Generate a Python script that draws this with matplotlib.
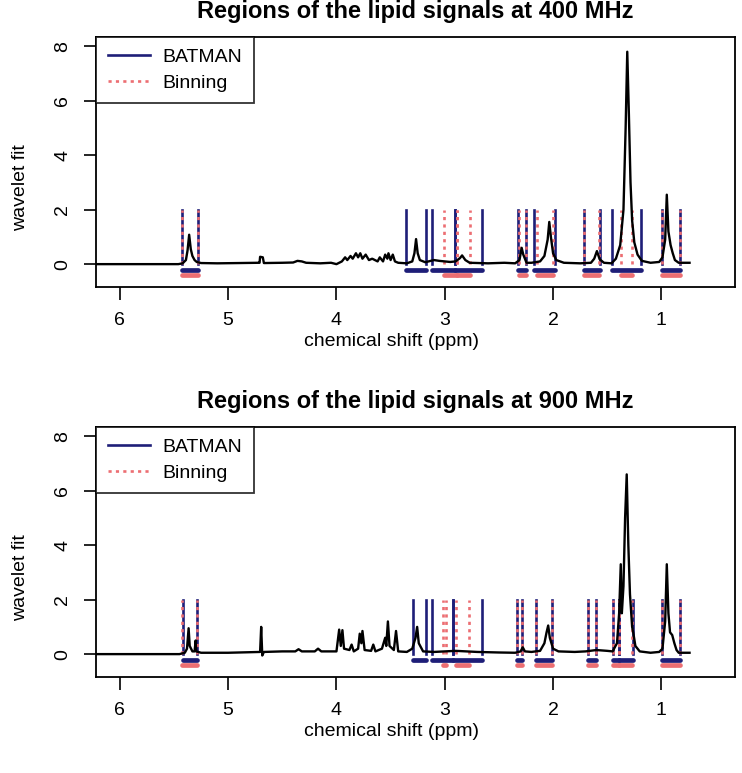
import matplotlib
matplotlib.use("Agg")
import matplotlib.pyplot as plt
from matplotlib.lines import Line2D

plt.rcParams['font.family'] = ['Liberation Sans', 'DejaVu Sans']

BLUE = '#1e1e78'
RED = '#ec6e72'

# spectrum traces (ppm, wavelet fit)
ppm_400 = [6.30, 5.46, 5.42, 5.39, 5.375, 5.36, 5.345, 5.33, 5.31, 5.29, 5.25, 5.10, 4.90,
           4.72, 4.71, 4.705, 4.68, 4.67, 4.50, 4.40, 4.36, 4.32, 4.28, 4.15, 4.05, 4.00,
           3.95, 3.92, 3.90, 3.87, 3.85, 3.82, 3.80, 3.78, 3.76, 3.73, 3.70, 3.67, 3.62,
           3.60, 3.57, 3.55, 3.53, 3.52, 3.50, 3.48, 3.46, 3.43, 3.35, 3.30, 3.28, 3.265,
           3.25, 3.23, 3.18, 3.10, 3.05, 2.95, 2.90, 2.86, 2.84, 2.81, 2.77, 2.60, 2.45,
           2.35, 2.31, 2.29, 2.275, 2.26, 2.245, 2.20, 2.12, 2.08, 2.05, 2.035, 2.02, 2.00,
           1.97, 1.90, 1.75, 1.65, 1.62, 1.595, 1.57, 1.53, 1.46, 1.42, 1.38, 1.35, 1.33,
           1.315, 1.30, 1.285, 1.27, 1.25, 1.22, 1.18, 1.10, 1.02, 0.99, 0.965, 0.95,
           0.935, 0.915, 0.895, 0.875, 0.84, 0.74]
fit_400 = [0.0, 0.0, 0.03, 0.15, 0.5, 1.08, 0.55, 0.3, 0.15, 0.08, 0.04, 0.03, 0.04,
           0.05, 0.05, 0.27, 0.25, 0.04, 0.05, 0.06, 0.12, 0.10, 0.05, 0.03, 0.05, 0.0,
           0.10, 0.25, 0.15, 0.30, 0.20, 0.40, 0.25, 0.40, 0.20, 0.35, 0.15, 0.20, 0.10,
           0.25, 0.10, 0.35, 0.20, 0.40, 0.15, 0.35, 0.10, 0.05, 0.03, 0.10, 0.40, 0.92,
           0.40, 0.15, 0.07, 0.15, 0.12, 0.08, 0.10, 0.22, 0.32, 0.15, 0.05, 0.03, 0.05,
           0.03, 0.15, 0.60, 0.35, 0.20, 0.05, 0.05, 0.10, 0.30, 0.90, 1.55, 1.00, 0.40,
           0.15, 0.05, 0.03, 0.05, 0.20, 0.48, 0.18, 0.05, 0.03, 0.20, 0.70, 2.00, 5.00,
           7.80, 5.50, 3.00, 1.60, 0.80, 0.35, 0.12, 0.05, 0.08, 0.25, 0.90, 2.55,
           1.20, 0.70, 0.40, 0.15, 0.05, 0.05]

ppm_900 = [6.30, 5.45, 5.40, 5.38, 5.365, 5.355, 5.33, 5.31, 5.30, 5.295, 5.25, 5.00,
           4.80, 4.705, 4.695, 4.685, 4.67, 4.50, 4.38, 4.35, 4.32, 4.20, 4.17, 4.14,
           4.00, 3.975, 3.96, 3.945, 3.93, 3.88, 3.86, 3.84, 3.80, 3.785, 3.77, 3.76,
           3.74, 3.68, 3.66, 3.64, 3.58, 3.55, 3.54, 3.525, 3.51, 3.47, 3.45, 3.43, 3.35,
           3.30, 3.27, 3.255, 3.24, 3.20, 3.10, 3.00, 2.90, 2.80, 2.70, 2.50, 2.35, 2.30,
           2.28, 2.26, 2.20, 2.12, 2.08, 2.06, 2.045, 2.03, 2.00, 1.95, 1.80, 1.70, 1.60,
           1.50, 1.45, 1.41, 1.39, 1.375, 1.365, 1.35, 1.335, 1.32, 1.305, 1.29, 1.27,
           1.26, 1.24, 1.20, 1.10, 1.02, 0.99, 0.965, 0.95, 0.935, 0.92, 0.90, 0.88,
           0.86, 0.84, 0.74]
fit_900 = [0.0, 0.0, 0.05, 0.2, 0.95, 0.3, 0.1, 0.1, 0.5, 0.1, 0.05, 0.05,
           0.07, 0.08, 1.0, -0.05, 0.08, 0.10, 0.10, 0.18, 0.10, 0.10, 0.20, 0.10,
           0.10, 0.90, 0.30, 0.88, 0.20, 0.15, 0.35, 0.10, 0.20, 0.75, 0.40, 0.85,
           0.15, 0.12, 0.35, 0.10, 0.20, 0.60, 0.30, 1.20, 0.30, 0.15, 0.85, 0.10, 0.08,
           0.20, 0.60, 1.00, 0.40, 0.10, 0.08, 0.10, 0.12, 0.10, 0.08, 0.06, 0.05, 0.10,
           0.25, 0.10, 0.08, 0.12, 0.40, 0.80, 1.05, 0.60, 0.20, 0.10, 0.08, 0.10, 0.15,
           0.12, 0.10, 0.40, 1.50, 3.30, 1.50, 2.50, 5.00, 6.60, 4.00, 2.20, 1.00,
           0.80, 0.30, 0.10, 0.05, 0.08, 0.20, 1.20, 3.30, 1.50, 0.80, 0.70, 0.40,
           0.15, 0.05, 0.05]

# region boundaries (ppm), each pair is one region
batman_400 = [(5.43, 5.28), (3.36, 3.17), (3.12, 2.91), (2.91, 2.66), (2.32, 2.25),
              (2.175, 1.985), (1.715, 1.57), (1.46, 1.185), (0.995, 0.83)]
binning_400 = [(5.43, 5.28), (3.01, 2.885), (2.885, 2.77), (2.315, 2.25), (2.15, 2.0),
               (1.715, 1.58), (1.37, 1.275), (0.995, 0.83)]
batman_900 = [(5.42, 5.29), (3.29, 3.17), (3.12, 2.92), (2.92, 2.66), (2.33, 2.285),
              (2.155, 2.01), (1.68, 1.605), (1.445, 1.39), (1.39, 1.265), (0.995, 0.83)]
binning_900 = [(5.43, 5.285), (3.02, 2.99), (2.9, 2.775), (2.33, 2.285), (2.155, 2.01),
               (1.68, 1.605), (1.445, 1.39), (1.39, 1.27), (0.995, 0.83)]

panels = [("Regions of the lipid signals at 400 MHz", ppm_400, fit_400, batman_400, binning_400),
          ("Regions of the lipid signals at 900 MHz", ppm_900, fit_900, batman_900, binning_900)]

fig = plt.figure(figsize=(7.42, 7.73), dpi=100)
boxes = [[0.1294, 0.6287, 0.8612, 0.3234], [0.1294, 0.1242, 0.8612, 0.3234]]

for box, (title, ppm, fit, batman, binning) in zip(boxes, panels):
    ax = fig.add_axes(box)
    ax.plot(ppm, fit, color='black', lw=1.7, zorder=5)
    for a, b in batman:
        for x in (a, b):
            ax.plot([x, x], [0, 2], color=BLUE, lw=1.9, zorder=3)
        ax.plot([a, b], [-0.2, -0.2], color=BLUE, lw=3.4, solid_capstyle='round', zorder=3)
    for a, b in binning:
        for x in (a, b):
            ax.plot([x, x], [0, 2], color=RED, lw=1.9, ls=(0, (1.2, 1.6)), zorder=4)
        ax.plot([a, b], [-0.4, -0.4], color=RED, lw=3.4, solid_capstyle='round', zorder=4)

    ax.set_xlim(6.22, 0.32)
    ax.set_ylim(-0.84, 8.34)
    ax.set_xticks([6, 5, 4, 3, 2, 1])
    ax.set_yticks([0, 2, 4, 6, 8])
    ax.tick_params(direction='out', length=9, width=1.2, labelsize=14, pad=9,
                   color='black')
    for lab in ax.get_yticklabels():
        lab.set_rotation(90)
        lab.set_va('center')
    for s in ax.spines.values():
        s.set_linewidth(1.3)
    ax.set_title(title, fontsize=17, fontweight='bold', pad=14)
    ax.set_xlabel("chemical shift (ppm)", fontsize=14)
    ax.xaxis.set_label_coords(0.462, -0.184)
    ax.set_ylabel("wavelet fit", fontsize=14)
    ax.yaxis.set_label_coords(-0.105, 0.396)

    handles = [Line2D([], [], color=BLUE, lw=1.9),
               Line2D([], [], color=RED, lw=1.9, ls=(0, (1.2, 1.6)))]
    leg = ax.legend(handles, ["BATMAN", "Binning"], loc='upper left', fontsize=14,
                    frameon=True, fancybox=False, borderaxespad=0, handlelength=2.2,
                    handletextpad=0.6, borderpad=0.6, labelspacing=0.4)
    leg.get_frame().set_edgecolor('black')
    leg.get_frame().set_linewidth(1.3)

fig.savefig("out.png", dpi=100)
